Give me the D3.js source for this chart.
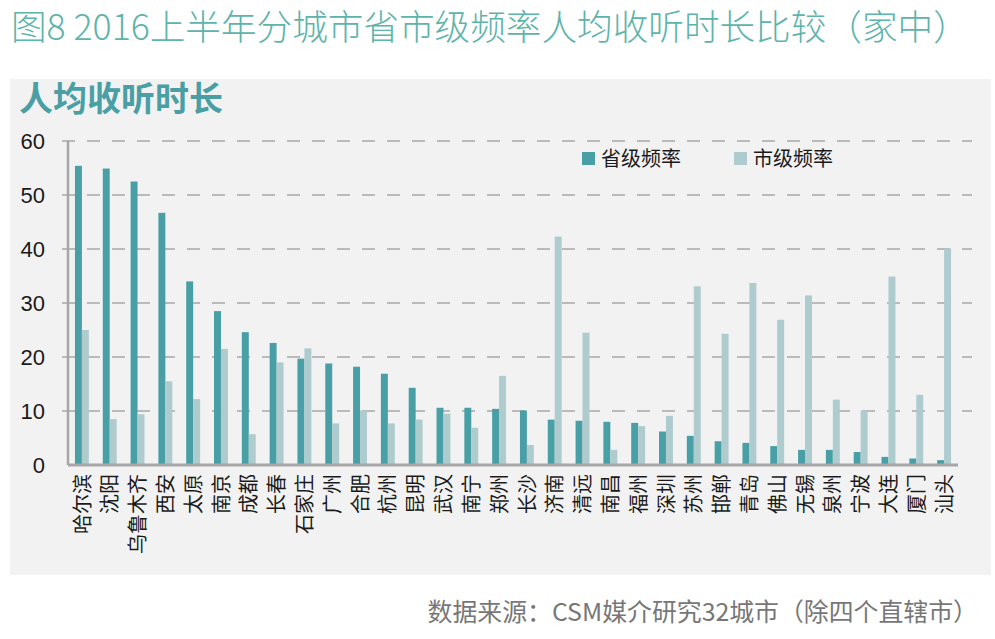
<!DOCTYPE html>
<html>
<head>
<meta charset="utf-8">
<script src="https://cdn.jsdelivr.net/npm/d3@7"></script>
<style>
  html, body { margin: 0; padding: 0; background: #fff; }
  svg text { font-family: "Noto Sans CJK SC", "Noto Sans", sans-serif; }
</style>
</head>
<body>
<div id="chart"></div>
<script>
// data
var cities = ["哈尔滨", "沈阳", "乌鲁木齐", "西安", "太原", "南京", "成都", "长春", "石家庄", "广州",
  "合肥", "杭州", "昆明", "武汉", "南宁", "郑州", "长沙", "济南", "清远", "南昌",
  "福州", "深圳", "苏州", "邯郸", "青岛", "佛山", "无锡", "泉州", "宁波", "大连", "厦门", "汕头"];
var provincial = [55.4, 54.9, 52.5, 46.7, 34.0, 28.5, 24.6, 22.6, 19.7, 18.8,
  18.2, 16.9, 14.3, 10.6, 10.6, 10.4, 10.1, 8.4, 8.2, 8.0,
  7.8, 6.2, 5.4, 4.4, 4.1, 3.5, 2.8, 2.8, 2.4, 1.5, 1.2, 0.9];
var municipal = [25.0, 8.5, 9.4, 15.5, 12.2, 21.5, 5.7, 19.0, 21.6, 7.7,
  10.1, 7.7, 8.4, 9.5, 6.9, 16.5, 3.7, 42.3, 24.5, 2.8,
  7.2, 9.1, 33.1, 24.3, 33.7, 26.9, 31.4, 12.1, 10.1, 34.9, 13.0, 40.1];
var seriesNames = ["省级频率", "市级频率"];
var yTicks = [0, 10, 20, 30, 40, 50, 60];

var colors = ["#48a0a6", "#aecbce"];

var width = 995, height = 639;
var plotLeft = 68, plotRight = 958, plotTop = 141, plotBottom = 465;

var svg = d3.select("#chart").append("svg")
  .attr("width", width)
  .attr("height", height);

// grey panel
svg.append("rect")
  .attr("x", 10).attr("y", 79)
  .attr("width", 981).attr("height", 496)
  .attr("fill", "#f2f2f2");

// scales
var x = d3.scaleBand()
  .domain(cities)
  .range([plotLeft, plotRight])
  .paddingInner(0.5)
  .paddingOuter(0.25);

var xs = d3.scaleBand()
  .domain(seriesNames)
  .range([0, x.bandwidth()]);

var y = d3.scaleLinear()
  .domain([0, 60])
  .range([plotBottom, plotTop]);

// dashed grid
svg.append("g").selectAll("line")
  .data(yTicks.filter(function(d) { return d > 0; }))
  .enter().append("line")
  .attr("x1", 62).attr("x2", 972)
  .attr("y1", function(d) { return y(d); })
  .attr("y2", function(d) { return y(d); })
  .attr("stroke", "#a8a8a8")
  .attr("stroke-width", 1.3)
  .attr("stroke-dasharray", "13,12");

// bars
var rows = cities.map(function(c, i) {
  return { city: c, values: [provincial[i], municipal[i]] };
});

var groups = svg.append("g").selectAll("g")
  .data(rows)
  .enter().append("g")
  .attr("transform", function(d) { return "translate(" + x(d.city) + ",0)"; });

groups.selectAll("rect")
  .data(function(d) { return d.values.map(function(v, k) { return { key: seriesNames[k], k: k, v: v }; }); })
  .enter().append("rect")
  .attr("x", function(d) { return xs(d.key); })
  .attr("y", function(d) { return y(d.v); })
  .attr("width", xs.bandwidth())
  .attr("height", function(d) { return y(0) - y(d.v); })
  .attr("fill", function(d) { return colors[d.k]; });

// y axis
var yAxis = svg.append("g")
  .attr("transform", "translate(" + plotLeft + ",0)")
  .call(d3.axisLeft(y).tickValues(yTicks).tickSize(0).tickPadding(23));
yAxis.select(".domain").remove();
yAxis.selectAll("text")
  .style("font-family", "'Liberation Sans', Arial, sans-serif")
  .style("font-size", "22px")
  .attr("fill", "#1a1a1a");

svg.append("line")
  .attr("x1", plotLeft).attr("x2", plotLeft)
  .attr("y1", plotTop).attr("y2", plotBottom)
  .attr("stroke", "#a6a6a6").attr("stroke-width", 2.5);

// x axis
var xAxis = svg.append("g")
  .attr("transform", "translate(0," + plotBottom + ")")
  .call(d3.axisBottom(x).tickSize(0));
xAxis.select(".domain").remove();
xAxis.selectAll("text")
  .attr("transform", "rotate(-90)")
  .attr("x", -9)
  .attr("y", 0)
  .attr("dy", "0.38em")
  .style("text-anchor", "end")
  .style("font-family", "'Noto Sans CJK SC', sans-serif")
  .style("font-size", "20px")
  .attr("fill", "#1a1a1a");

svg.append("line")
  .attr("x1", plotLeft).attr("x2", plotRight)
  .attr("y1", plotBottom).attr("y2", plotBottom)
  .attr("stroke", "#a6a6a6").attr("stroke-width", 3);

// legend
var legend = svg.append("g").selectAll("g")
  .data(seriesNames)
  .enter().append("g")
  .attr("transform", function(d, i) { return "translate(" + (582 + i * 152) + ",152)"; });
legend.append("rect")
  .attr("width", 13).attr("height", 13)
  .attr("fill", function(d, i) { return colors[i]; });
legend.append("text")
  .attr("x", 19).attr("y", 7)
  .attr("dy", "0.36em")
  .style("font-size", "20px")
  .attr("fill", "#1a1a1a")
  .text(function(d) { return d; });

// titles
function fit(sel, w) {
  var fs = parseFloat(sel.style("font-size"));
  var len = sel.node().getComputedTextLength();
  sel.style("font-size", (fs * w / len) + "px");
}

var title = svg.append("text")
  .attr("x", 11).attr("y", 40)
  .style("font-size", "33px")
  .style("font-weight", 300)
  .attr("fill", "#5db4ab")
  .text("图8 2016上半年分城市省市级频率人均收听时长比较（家中）");
fit(title, 958);

svg.append("text")
  .attr("x", 19).attr("y", 111)
  .style("font-size", "34px")
  .style("font-weight", "bold")
  .attr("fill", "#4a9fa5")
  .text("人均收听时长");

var source = svg.append("text")
  .attr("x", 978).attr("y", 621)
  .attr("text-anchor", "end")
  .style("font-size", "24px")
  .attr("fill", "#777")
  .text("数据来源：CSM媒介研究32城市（除四个直辖市）");
fit(source, 551);
</script>
</body>
</html>
